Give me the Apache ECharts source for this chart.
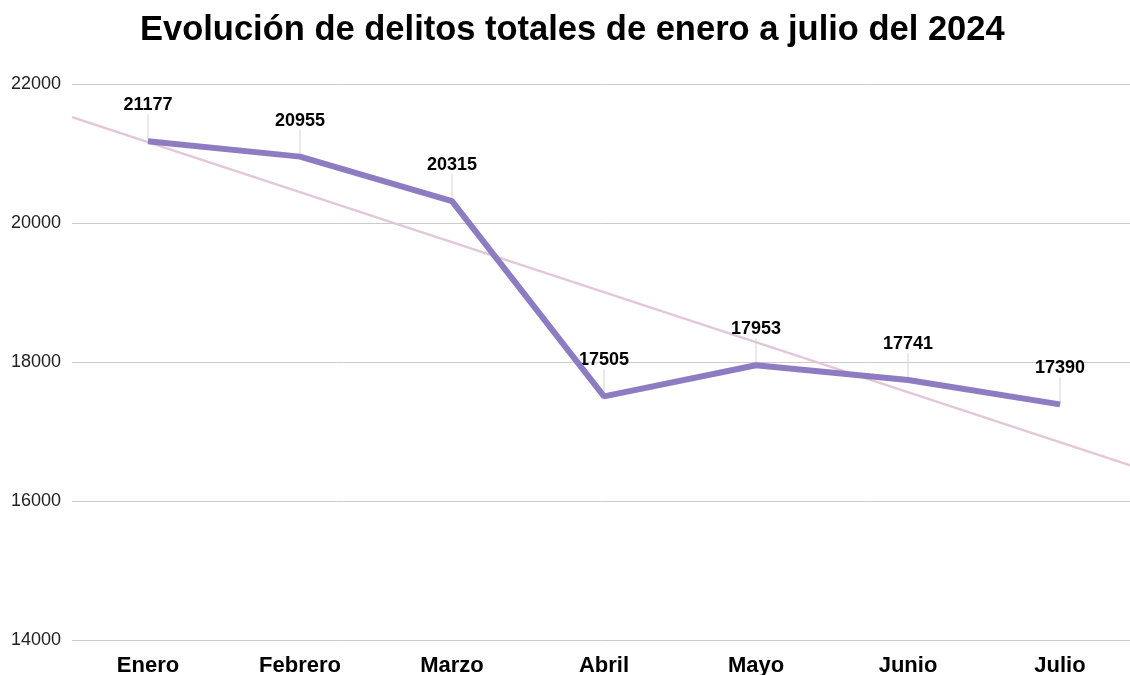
<!DOCTYPE html>
<html>
<head>
<meta charset="utf-8">
<script src="https://cdn.jsdelivr.net/npm/echarts@6/dist/echarts.min.js"></script>
<style>html,body{margin:0;padding:0;background:#fff}#c{width:1130px;height:675px}</style>
</head>
<body>
<div id="c"></div>
<script>
const categories = ['Enero', 'Febrero', 'Marzo', 'Abril', 'Mayo', 'Junio', 'Julio'];
const delitos = [21177, 20955, 20315, 17505, 17953, 17741, 17390];
const yTicks = [14000, 16000, 18000, 20000, 22000];

// linear trend computed from the data
const n = delitos.length;
const mx = (n - 1) / 2;
const my = delitos.reduce((a, b) => a + b, 0) / n;
let sxy = 0, sxx = 0;
delitos.forEach((v, i) => { sxy += (i - mx) * (v - my); sxx += (i - mx) * (i - mx); });
const slope = sxy / sxx;
const icpt = my - slope * mx;
const trend = [[-0.5, icpt + slope * -0.5], [n - 0.5, icpt + slope * (n - 0.5)]];

const FF = 'Liberation Sans, Arial, sans-serif';
const chart = echarts.init(document.getElementById('c'));
chart.setOption({
  animation: false,
  backgroundColor: '#fff',
  title: {
    text: 'Evolución de delitos totales de enero a julio del 2024',
    left: 135, top: 8,
    textStyle: { fontFamily: FF, fontSize: 34.5, fontWeight: 'bold', color: '#000' }
  },
  grid: { left: 72, right: -6, top: 84, bottom: 35, containLabel: false, outerBoundsMode: 'none' },
  xAxis: [{
    type: 'category', data: categories, boundaryGap: true,
    axisLine: { show: false }, axisTick: { show: false },
    axisLabel: { fontFamily: FF, fontSize: 22, fontWeight: 'bold', color: '#000', margin: 15 }
  }, {
    type: 'value', min: -0.5, max: n - 0.5, show: false
  }],
  yAxis: {
    type: 'value', min: yTicks[0], max: yTicks[yTicks.length - 1], interval: 2000,
    axisLine: { show: false }, axisTick: { show: false },
    splitLine: { lineStyle: { color: '#cccccc', width: 1 } },
    axisLabel: { fontFamily: FF, fontSize: 18, color: '#222', margin: 11, formatter: v => String(v) }
  },
  series: [{
    type: 'line', xAxisIndex: 1, data: trend, symbol: 'none', silent: true,
    lineStyle: { color: '#e4c6d9', width: 2.5 }, z: 1
  }, {
    type: 'custom', z: 2, silent: true,
    data: delitos.map((v, i) => [i, v]),
    renderItem: function (params, api) {
      const p = api.coord([api.value(0), api.value(1)]);
      return {
        type: 'group',
        children: [{
          type: 'line',
          shape: { x1: p[0], y1: p[1], x2: p[0], y2: p[1] - 27 },
          style: { stroke: '#d4d4d4', lineWidth: 1 }
        }, {
          type: 'text',
          style: {
            x: p[0], y: p[1] - 36, text: String(api.value(1)),
            align: 'center', verticalAlign: 'middle',
            font: 'bold 18px ' + FF, fill: '#000'
          }
        }]
      };
    }
  }, {
    type: 'line', data: delitos, symbol: 'none', z: 3,
    lineStyle: { color: '#8e7cc3', width: 6 }
  }]
});
</script>
</body>
</html>
